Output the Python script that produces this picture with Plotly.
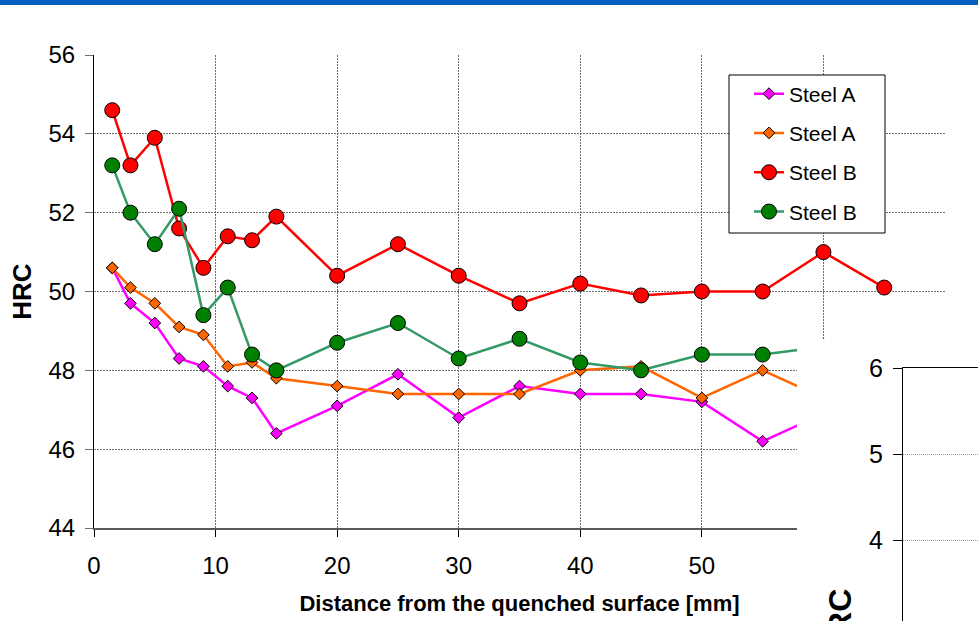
import plotly.graph_objects as go

W, H = 978, 621

# ---------------- data ----------------
distance = [1.5, 3, 5, 7, 9, 11, 13, 15, 20, 25, 30, 35, 40, 45, 50, 55, 60]
distance_b1 = [1.5, 3, 5, 7, 9, 11, 13, 15, 20, 25, 30, 35, 40, 45, 50, 55, 60, 65]
steel_a_1 = [50.6, 49.7, 49.2, 48.3, 48.1, 47.6, 47.3, 46.4, 47.1, 47.9, 46.8, 47.6, 47.4, 47.4, 47.2, 46.2, 46.9]
steel_a_2 = [50.6, 50.1, 49.7, 49.1, 48.9, 48.1, 48.2, 47.8, 47.6, 47.4, 47.4, 47.4, 48.0, 48.1, 47.3, 48.0, 47.3]
steel_b_1 = [54.6, 53.2, 53.9, 51.6, 50.6, 51.4, 51.3, 51.9, 50.4, 51.2, 50.4, 49.7, 50.2, 49.9, 50.0, 50.0, 51.0, 50.1]
steel_b_2 = [53.2, 52.0, 51.2, 52.1, 49.4, 50.1, 48.4, 48.0, 48.7, 49.2, 48.3, 48.8, 48.2, 48.0, 48.4, 48.4, 48.6]

x_ticks = [0, 10, 20, 30, 40, 50, 60, 70]
y_ticks = [44, 46, 48, 50, 52, 54, 56]
y2_ticks = [3, 4, 5, 6]

FONT = "Liberation Sans, Arial, sans-serif"

fig = go.Figure()

series = [
    ("Steel A", distance, steel_a_1, "#FF00FF", "#FF00FF", "diamond", 9),
    ("Steel A", distance, steel_a_2, "#FF6600", "#FF6600", "diamond", 9),
    ("Steel B", distance_b1, steel_b_1, "#FF0000", "#FF0000", "circle", 15),
    ("Steel B", distance, steel_b_2, "#339966", "#008000", "circle", 15),
]
for i, (name, xs, ys, lc, mc, sym, ms) in enumerate(series):
    fig.add_trace(go.Scatter(
        x=xs, y=ys, name=name, mode="lines+markers", legendgroup=f"g{i}",
        line=dict(color=lc, width=2.5),
        marker=dict(symbol=sym, size=ms, color=mc, line=dict(color="black", width=1)),
        xaxis="x", yaxis="y",
    ))

# cover panel (second chart overlapping) and second chart frame
fig.add_trace(go.Scatter(x=[None], y=[None], xaxis="x2", yaxis="y2",
                         showlegend=False, hoverinfo="skip"))
fig.add_trace(go.Scatter(x=[None], y=[None], xaxis="x3", yaxis="y3",
                         showlegend=False, hoverinfo="skip"))

grid = dict(showgrid=True, gridcolor="#6f6f6f", gridwidth=1, griddash="2px,1px")

fig.update_layout(
    template="none",
    width=W, height=H, autosize=False,
    margin=dict(l=0, r=0, t=0, b=0, pad=0),
    paper_bgcolor="white", plot_bgcolor="white",
    font=dict(family=FONT, color="black", size=24),
    xaxis=dict(
        domain=[94 / W, 945 / W], range=[0, 70], tickvals=x_ticks,
        ticks="outside", ticklen=7, tickcolor="black", tickwidth=1,
        showline=True, linecolor="#595959", linewidth=2,
        tickfont=dict(size=24), zeroline=False, anchor="y",
        ticklabelstandoff=8,
        title=dict(text="Distance from the quenched surface [mm]",
                   font=dict(size=22, weight="bold"), standoff=18),
        **grid,
    ),
    yaxis=dict(
        domain=[(H - 528) / H, (H - 55) / H], range=[44, 56], tickvals=y_ticks,
        ticks="outside", ticklen=8, tickcolor="#6f6f6f", tickwidth=1,
        showline=True, linecolor="black", linewidth=1,
        tickfont=dict(size=24), zeroline=False, anchor="x",
        ticklabelstandoff=5,
        title=dict(text="HRC", font=dict(size=26, weight="bold"), standoff=9),
        **grid,
    ),
    xaxis2=dict(domain=[797 / W, 1], visible=False, anchor="y2", range=[0, 1]),
    yaxis2=dict(domain=[0, (H - 339) / H], visible=False, anchor="x2", range=[0, 1]),
    xaxis3=dict(domain=[903 / W, 1], anchor="y3", range=[0, 1], side="top",
                showline=True, linecolor="black", linewidth=1,
                showticklabels=False, ticks="", showgrid=False, zeroline=False),
    yaxis3=dict(domain=[0, (H - 368) / H], anchor="x3",
                range=[6 - (621 - 368) / 86.2, 6], tickvals=y2_ticks,
                ticks="outside", ticklen=9, tickcolor="black",
                showline=True, linecolor="black", linewidth=1,
                showgrid=True, gridcolor="#9a9a9a", griddash="1px,1px",
                zeroline=False, tickfont=dict(size=25), ticklabelstandoff=5),
    legend=dict(
        x=729 / W, y=1 - 73.5 / H, xanchor="left", yanchor="top",
        bgcolor="rgba(0,0,0,0)", borderwidth=0,
        font=dict(size=21), traceorder="grouped", tracegroupgap=9,
        indentation=20,
    ),
    shapes=[
        dict(type="rect", xref="paper", yref="paper", x0=0, x1=1,
             y0=1 - 5 / H, y1=1, fillcolor="#0060C0", line=dict(width=0),
             layer="above"),
        # legend frame
        dict(type="rect", xref="paper", yref="paper", x0=729 / W, x1=885 / W,
             y0=1 - 233 / H, y1=1 - 75 / H, fillcolor="white",
             line=dict(color="black", width=1), layer="above"),
    ],
    annotations=[dict(text="<b>HRC</b>", textangle=-90, xref="paper", yref="paper",
                      x=840 / W, y=(H - 624) / H, xanchor="center", yanchor="middle",
                      showarrow=False, font=dict(size=32))],
)

fig.write_html("out.html", config={"displayModeBar": False},
               post_script="document.body.style.margin='0';document.body.style.overflow='hidden';")
